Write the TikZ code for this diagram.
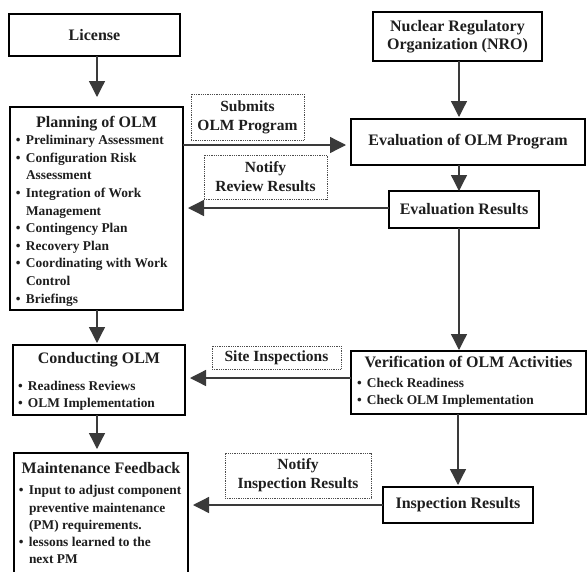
\documentclass[tikz,border=0pt]{standalone}
\usepackage{fontspec}
\setmainfont{Liberation Serif}
\usetikzlibrary{arrows.meta}
\newcommand\ttl{\fontsize{16}{17.6}\selectfont\bfseries}
\newcommand\lblf{\fontsize{15.5}{19}\selectfont\bfseries}
\newcommand\itf[1]{\fontsize{13.4}{#1}\selectfont\bfseries}
\newcommand\bu{\makebox[10pt][l]{\textbullet}}
\newcommand\ind{\hspace*{10pt}}
\definecolor{linec}{HTML}{3A3A3A}
\definecolor{txtc}{HTML}{1E1E1E}
\begin{document}
\begin{tikzpicture}[x=1pt,y=-1pt,
  box/.style={draw=black, line width=1.1pt, fill=white, inner sep=0pt, outer sep=0pt, text=txtc},
  sbox/.style={box, font=\ttl, align=center},
  lbl/.style={draw=black!70, densely dotted, line width=0.8pt, inner sep=0pt, outer sep=0pt, font=\lblf, align=center, text=txtc},
  arr/.style={draw=linec, line width=1.3pt, -{Triangle[length=16pt,width=16pt]}, shorten >=2pt},
  harr/.style={arr, shorten >=5pt}]
\useasboundingbox[fill=white] (0,0) rectangle (587,571);

% main boxes
\node[sbox, minimum width=171, minimum height=42] (lic) at (94.5,35) {License};
\node[sbox, minimum width=169, minimum height=49] (nro) at (457.5,36.5) {Nuclear Regulatory\\Organization (NRO)};

\node[box, anchor=north west, inner xsep=6pt] (plan) at (10,107) {\parbox[c][203pt][t]{161pt}{%
  {\ttl\centering\rule{0pt}{20pt}Planning of OLM\par}
  \itf{17.6}\raggedright
  \bu Preliminary Assessment\par
  \bu Configuration Risk\par
  \ind Assessment\par
  \bu Integration of Work\par
  \ind Management\par
  \bu Contingency Plan\par
  \bu Recovery Plan\par
  \bu Coordinating with Work\par
  \ind Control\par
  \bu Briefings\par}};

\node[sbox, minimum width=234, minimum height=46] (evp) at (468,142) {Evaluation of OLM Program};
\node[sbox, minimum width=150, minimum height=37] (evr) at (464,209.5) {Evaluation Results};

\node[box, anchor=north west, inner xsep=5pt] (cond) at (13,345) {\parbox[c][70pt][t]{162pt}{%
  {\ttl\centering\rule{0pt}{18pt}Conducting OLM\par}
  \vspace{9.4pt}
  \itf{17.6}\raggedright
  \bu Readiness Reviews\par
  \bu OLM Implementation\par}};

\node[box, anchor=north west, inner xsep=6pt] (ver) at (351,351) {\parbox[c][63pt][t]{223pt}{%
  {\ttl\centering\rule{0pt}{16pt}Verification of OLM Activities\par}
  \vspace{2.5pt}
  \itf{17.5}\raggedright
  \bu Check Readiness\par
  \bu Check OLM Implementation\par}};

\node[box, anchor=north west, inner xsep=5pt] (maint) at (14,453) {\parbox[c][150pt][t]{164pt}{%
  {\ttl\centering\rule{0pt}{20pt}Maintenance Feedback\par}
  \vspace{4.6pt}
  \itf{17.2}\raggedright
  \bu Input to adjust component\par
  \ind preventive maintenance\par
  \ind (PM) requirements.\par
  \bu lessons learned to the\par
  \ind next PM\par}};

\node[sbox, minimum width=150, minimum height=36] (ir) at (458,505) {Inspection Results};

% dotted labels
\node[lbl, minimum width=113, minimum height=46] (l1) at (247.5,117) {Submits\\OLM Program};
\node[lbl, minimum width=123, minimum height=44] (l2) at (265.5,177) {Notify\\Review Results};
\node[lbl, minimum width=129, minimum height=23] (l3) at (276.5,357.5) {Site Inspections};
\node[lbl, minimum width=146, minimum height=45] (l4) at (298,475.5) {Notify\\Inspection Results};

% connectors
\coordinate (cx) at (97,0);
\coordinate (rx) at (459,0);
\coordinate (y1) at (0,145);
\coordinate (y2) at (0,208);
\coordinate (y3) at (0,378);
\coordinate (y4) at (0,505);
\draw[arr, shorten >=10pt] (lic.south -| cx) -- (plan.north -| cx);
\draw[arr] (plan.south -| cx) -- (cond.north -| cx);
\draw[arr, shorten >=4pt] (cond.south -| cx) -- (maint.north -| cx);
\draw[arr] (nro.south -| rx) -- (evp.north -| rx);
\draw[arr, shorten >=0pt] (evp.south -| rx) -- (evr.north -| rx);
\draw[arr, shorten >=1pt] (evr.south -| rx) -- (ver.north -| rx);
\draw[arr] (ver.south -| ir.north) -- (ir.north);
\draw[harr] (plan.east |- y1) -- (evp.west |- y1);
\draw[harr] (evr.west |- y2) -- (plan.east |- y2);
\draw[harr] (ver.west |- y3) -- (cond.east |- y3);
\draw[harr] (ir.west |- y4) -- (maint.east |- y4);
\end{tikzpicture}
\end{document}
